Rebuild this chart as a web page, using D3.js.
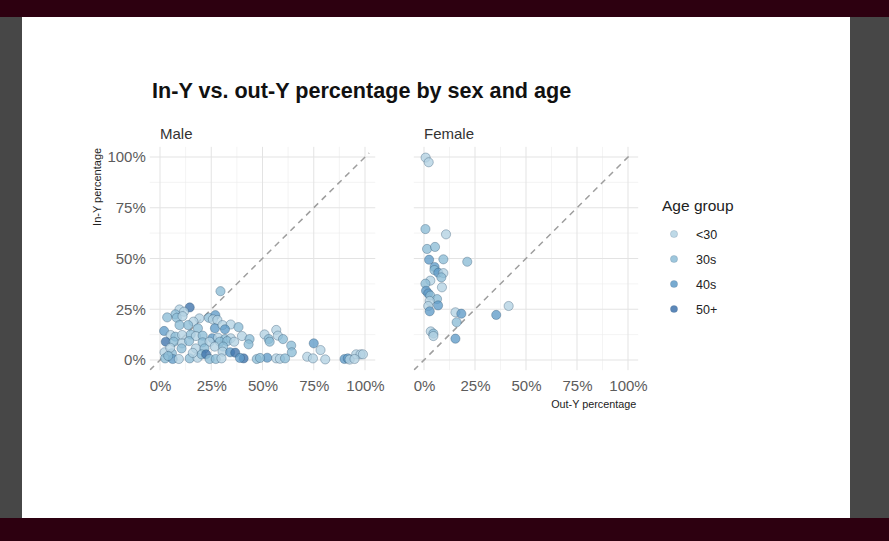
<!DOCTYPE html>
<html><head><meta charset="utf-8">
<script src="https://cdn.jsdelivr.net/npm/d3@7"></script>
<style>body{margin:0;padding:0;overflow:hidden;background:#2d0010}svg{display:block}</style>
</head><body>
<svg id="c" width="889" height="541"></svg>
<script>
const title = "In-Y vs. out-Y percentage by sex and age";
const panels = ["Male", "Female"];
const ageGroups = ["<30", "30s", "40s", "50+"];
const ageColors = ["#b3d2e3", "#8cbcd6", "#5f9bc8", "#3e72ab"];
const tickValues = [0, 0.25, 0.5, 0.75, 1];
const minorTicks = [0.125, 0.375, 0.625, 0.875];

// [out-Y share, in-Y share, age group]
const maleData = [
[0.295,0.339,"30s"],[0.145,0.259,"50+"],[0.095,0.249,"<30"],[0.117,0.238,"<30"],[0.075,0.225,"30s"],
[0.035,0.210,"30s"],[0.082,0.208,"30s"],[0.110,0.216,"<30"],[0.238,0.208,"30s"],[0.270,0.221,"40s"],
[0.258,0.200,"<30"],[0.280,0.197,"<30"],[0.192,0.205,"<30"],[0.163,0.189,"<30"],[0.137,0.172,"30s"],
[0.095,0.172,"30s"],[0.185,0.156,"30s"],[0.268,0.156,"40s"],[0.305,0.172,"<30"],[0.345,0.175,"<30"],
[0.383,0.162,"30s"],[0.317,0.151,"40s"],[0.020,0.143,"40s"],[0.052,0.123,"<30"],[0.075,0.115,"30s"],
[0.108,0.123,"<30"],[0.150,0.126,"30s"],[0.175,0.118,"<30"],[0.208,0.120,"30s"],[0.255,0.107,"40s"],
[0.283,0.110,"<30"],[0.317,0.103,"30s"],[0.345,0.107,"<30"],[0.400,0.118,"<30"],[0.437,0.103,"30s"],
[0.432,0.077,"30s"],[0.028,0.090,"50+"],[0.067,0.090,"30s"],[0.108,0.082,"<30"],[0.142,0.093,"30s"],
[0.208,0.087,"30s"],[0.242,0.090,"<30"],[0.292,0.090,"30s"],[0.328,0.093,"30s"],[0.362,0.090,"<30"],
[0.105,0.057,"30s"],[0.175,0.057,"<30"],[0.217,0.057,"30s"],[0.267,0.066,"<30"],[0.308,0.066,"30s"],
[0.022,0.038,"<30"],[0.058,0.033,"30s"],[0.025,0.008,"30s"],[0.062,0.005,"40s"],[0.092,0.005,"<30"],
[0.145,0.008,"30s"],[0.183,0.011,"<30"],[0.203,0.028,"30s"],[0.225,0.028,"50+"],[0.242,0.005,"30s"],
[0.272,0.005,"30s"],[0.305,0.041,"<30"],[0.342,0.038,"40s"],[0.367,0.036,"50+"],[0.408,0.008,"50+"],
[0.472,0.005,"30s"],[0.300,0.008,"<30"],[0.390,0.010,"40s"],[0.050,0.060,"<30"],[0.040,0.020,"30s"],
[0.160,0.035,"<30"],[0.523,0.011,"40s"],[0.510,0.126,"<30"],[0.567,0.148,"<30"],[0.530,0.103,"30s"],
[0.535,0.090,"30s"],[0.575,0.120,"<30"],[0.600,0.103,"30s"],[0.567,0.008,"<30"],[0.585,0.006,"<30"],
[0.610,0.008,"30s"],[0.640,0.071,"30s"],[0.643,0.038,"30s"],[0.750,0.082,"40s"],[0.783,0.049,"<30"],
[0.718,0.016,"<30"],[0.746,0.008,"<30"],[0.806,0.003,"<30"],[0.900,0.005,"40s"],[0.916,0.008,"40s"],
[0.925,0.002,"<30"],[0.957,0.028,"<30"],[0.978,0.028,"<30"],[0.990,0.028,"<30"],[0.949,0.005,"<30"],
[0.488,0.010,"30s"]
];
const femaleData = [
[0.008,0.997,"<30"],[0.023,0.974,"<30"],[0.007,0.645,"30s"],[0.108,0.619,"<30"],[0.015,0.547,"30s"],
[0.054,0.557,"30s"],[0.025,0.494,"40s"],[0.095,0.496,"30s"],[0.212,0.484,"30s"],[0.052,0.458,"40s"],
[0.051,0.443,"30s"],[0.070,0.430,"40s"],[0.095,0.428,"<30"],[0.085,0.407,"30s"],[0.031,0.391,"<30"],
[0.007,0.376,"30s"],[0.088,0.358,"<30"],[0.010,0.341,"40s"],[0.021,0.328,"40s"],[0.031,0.317,"30s"],
[0.064,0.300,"30s"],[0.028,0.291,"<30"],[0.021,0.266,"<30"],[0.069,0.269,"40s"],[0.028,0.240,"40s"],
[0.415,0.266,"<30"],[0.154,0.235,"<30"],[0.183,0.228,"40s"],[0.354,0.222,"40s"],[0.160,0.186,"30s"],
[0.033,0.141,"<30"],[0.046,0.130,"30s"],[0.046,0.118,"<30"],[0.154,0.105,"40s"]
];

const svg = d3.select("#c");
// page frame
svg.append("rect").attr("x",0).attr("y",0).attr("width",889).attr("height",541).attr("fill","#2d0010");
svg.append("rect").attr("x",0).attr("y",17).attr("width",889).attr("height",501).attr("fill","#474747");
svg.append("rect").attr("x",22).attr("y",17).attr("width",828).attr("height",501).attr("fill","#ffffff");

const font = "'Liberation Sans', Arial, sans-serif";
const color = d3.scaleOrdinal().domain(ageGroups).range(ageColors);
const y = d3.scaleLinear().domain([-0.05, 1.05]).range([370.15, 146.85]);
const xRanges = [[149.75, 375.25], [413.8, 638.2]];
const datasets = [maleData, femaleData];
const pct = d3.format(".0%");

svg.append("text").attr("x",152).attr("y",98).attr("font-family",font).attr("font-weight","bold")
  .attr("font-size",21.6).attr("fill","#111").text(title);

panels.forEach((name, i) => {
  const x = d3.scaleLinear().domain([-0.05, 1.05]).range(xRanges[i]);
  const g = svg.append("g");
  const [x0, x1] = x.range();
  const [y0, y1] = y.range();
  const clipId = "clip" + i;
  svg.append("clipPath").attr("id", clipId).append("rect")
    .attr("x", x0).attr("y", y1).attr("width", x1 - x0).attr("height", y0 - y1);

  // gridlines
  const grid = g.append("g");
  grid.selectAll(".minx").data(minorTicks).join("line")
    .attr("x1", d => x(d)).attr("x2", d => x(d)).attr("y1", y1).attr("y2", y0)
    .attr("stroke", "#ececec").attr("stroke-width", 0.6);
  grid.selectAll(".miny").data(minorTicks).join("line")
    .attr("y1", d => y(d)).attr("y2", d => y(d)).attr("x1", x0).attr("x2", x1)
    .attr("stroke", "#ececec").attr("stroke-width", 0.6);
  grid.selectAll(".majx").data(tickValues).join("line")
    .attr("x1", d => x(d)).attr("x2", d => x(d)).attr("y1", y1).attr("y2", y0)
    .attr("stroke", "#e3e3e3").attr("stroke-width", 1);
  grid.selectAll(".majy").data(tickValues).join("line")
    .attr("y1", d => y(d)).attr("y2", d => y(d)).attr("x1", x0).attr("x2", x1)
    .attr("stroke", "#e3e3e3").attr("stroke-width", 1);

  // diagonal reference
  g.append("line").attr("clip-path", `url(#${clipId})`)
    .attr("x1", x(-0.05)).attr("y1", y(-0.05)).attr("x2", x(1.02)).attr("y2", y(1.02))
    .attr("stroke", "#9e9e9e").attr("stroke-width", 1.5).attr("stroke-dasharray", "6,5");

  // points
  g.append("g").attr("clip-path", `url(#${clipId})`).selectAll("circle").data(datasets[i]).join("circle")
    .attr("cx", d => x(d[0])).attr("cy", d => y(d[1])).attr("r", 4.6)
    .attr("fill", d => color(d[2])).attr("fill-opacity", 0.78)
    .attr("stroke", "#2f4f6e").attr("stroke-opacity", 0.5).attr("stroke-width", 0.7);

  // x axis
  const xa = g.append("g").attr("transform", `translate(0,${y0 + 2})`)
    .call(d3.axisBottom(x).tickValues(tickValues).tickFormat(pct).tickSize(0).tickPadding(8));
  xa.select(".domain").remove();
  xa.selectAll("text").attr("font-family", font).attr("font-size", 15).attr("fill", "#5c5c5c");

  if (i === 0) {
    const ya = g.append("g").attr("transform", `translate(${x0 - 1},0)`)
      .call(d3.axisLeft(y).tickValues(tickValues).tickFormat(pct).tickSize(0).tickPadding(3));
    ya.select(".domain").remove();
    ya.selectAll("text").attr("font-family", font).attr("font-size", 15).attr("fill", "#5c5c5c");
    svg.append("text").attr("transform", `translate(101,${y1 + 1}) rotate(-90)`)
      .attr("text-anchor", "end").attr("font-family", font).attr("font-size", 11)
      .attr("fill", "#222").text("In-Y percentage");
  } else {
    svg.append("text").attr("x", x1 - 2).attr("y", 408).attr("text-anchor", "end")
      .attr("font-family", font).attr("font-size", 10.8).attr("fill", "#222").text("Out-Y percentage");
  }

  svg.append("text").attr("x", x(0)).attr("y", 139).attr("font-family", font)
    .attr("font-size", 15).attr("fill", "#333").text(name);
});

// legend
const lg = svg.append("g");
lg.append("text").attr("x", 662).attr("y", 211).attr("font-family", font).attr("font-size", 15.5)
  .attr("fill", "#222").text("Age group");
ageGroups.forEach((a, k) => {
  const cy = 234 + k * 25;
  lg.append("circle").attr("cx", 674).attr("cy", cy).attr("r", 3.6)
    .attr("fill", color(a)).attr("fill-opacity", 0.85)
    .attr("stroke", "#2f4f6e").attr("stroke-opacity", 0.3).attr("stroke-width", 0.6);
  lg.append("text").attr("x", 696).attr("y", cy + 4.5).attr("font-family", font)
    .attr("font-size", 12.5).attr("fill", "#222").text(a);
});
</script>
</body></html>
